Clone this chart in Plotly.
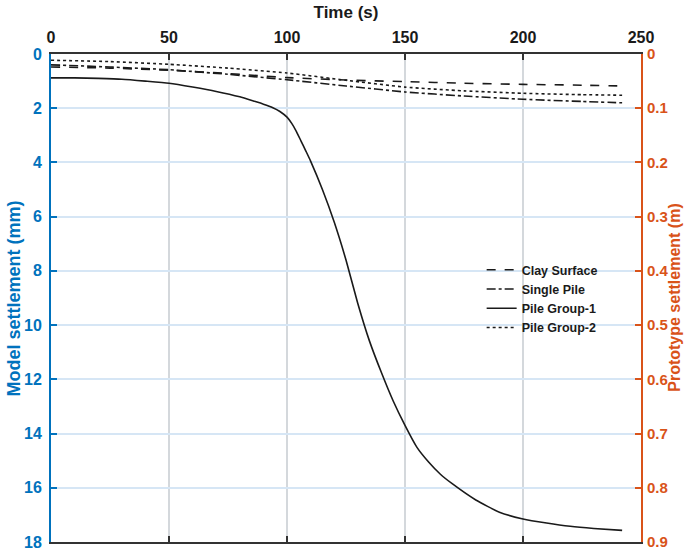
import plotly.graph_objects as go

# Settlement–time records (model scale, mm)
t_clay = [0, 25, 50, 75, 100, 125, 150, 175, 200, 225, 242]
clay_surface = [0.48, 0.52, 0.60, 0.72, 0.87, 0.96, 1.02, 1.08, 1.12, 1.15, 1.18]

t_single = [0, 25, 50, 75, 100, 125, 150, 175, 200, 225, 242]
single_pile = [0.40, 0.48, 0.58, 0.75, 0.95, 1.18, 1.40, 1.55, 1.67, 1.75, 1.80]

t_group1 = [0, 10, 20, 30, 40, 50, 60, 70, 80, 86, 90, 94, 97, 100, 102, 104,
            106, 108, 110, 115, 120, 125, 130, 135, 140, 145, 150, 155, 160,
            165, 170, 180, 190, 200, 210, 220, 230, 242]
pile_group_1 = [0.88, 0.88, 0.90, 0.93, 1.00, 1.08, 1.22, 1.38, 1.58, 1.74, 1.85,
                1.98, 2.12, 2.33, 2.56, 2.86, 3.22, 3.58, 3.95, 5.00, 6.20, 7.60,
                9.20, 10.60, 11.75, 12.80, 13.70, 14.50, 15.05, 15.50, 15.85,
                16.45, 16.90, 17.15, 17.30, 17.42, 17.50, 17.57]

t_group2 = [0, 25, 50, 75, 100, 125, 150, 175, 200, 225, 242]
pile_group_2 = [0.23, 0.28, 0.38, 0.52, 0.70, 0.97, 1.22, 1.36, 1.45, 1.50, 1.52]

x_ticks = [0, 50, 100, 150, 200, 250]
model_ticks = [0, 2, 4, 6, 8, 10, 12, 14, 16, 18]
proto_ticks = [0, 0.1, 0.2, 0.3, 0.4, 0.5, 0.6, 0.7, 0.8, 0.9]

BLUE = "#0072BD"
ORANGE = "#D95319"
INK = "#1a1a1a"
FONT = "Arial"

fig = go.Figure()
series = [
    ("Clay Surface", t_clay, clay_surface, "dash"),
    ("Single Pile", t_single, single_pile, "dashdot"),
    ("Pile Group-1", t_group1, pile_group_1, "solid"),
    ("Pile Group-2", t_group2, pile_group_2, "dot"),
]
for name, tx, vals, dash in series:
    fig.add_trace(go.Scatter(
        x=tx, y=vals, name=name, mode="lines",
        line=dict(color=INK, width=1.6, dash=dash, shape="spline", smoothing=0.5),
    ))

# invisible trace to activate the prototype-scale axis
fig.add_trace(go.Scatter(x=[0], y=[0], yaxis="y2", mode="markers",
                         marker=dict(opacity=0), showlegend=False, hoverinfo="skip"))

axis_common = dict(automargin=False, ticklabeloverflow="allow", zeroline=False,
                   ticks="inside", ticklen=6, tickwidth=2, showline=True, linewidth=2)

fig.update_layout(
    width=684, height=550,
    margin=dict(l=51, r=43, t=54, b=8),
    plot_bgcolor="white", paper_bgcolor="white",
    font=dict(family=FONT, size=16, color=INK),
    showlegend=True,
    legend=dict(
        x=0.935, y=0.588, xanchor="right", yanchor="top",
        bgcolor="rgba(0,0,0,0)", borderwidth=0,
        font=dict(family=FONT, size=12.5, color=INK, weight="bold"),
        tracegroupgap=0, itemwidth=30,
    ),
    xaxis=dict(
        side="top", range=[0, 250], tickvals=x_ticks,
        title=dict(text="Time (s)", font=dict(size=17, weight="bold", color=INK), standoff=6),
        tickfont=dict(size=16, weight="bold", color=INK), ticklabelstandoff=3,
        linecolor="#333333", mirror="ticks", tickcolor="#333333",
        showgrid=True, gridcolor="#d4d8dc", gridwidth=1.5,
        **axis_common,
    ),
    yaxis=dict(
        range=[18, 0], tickvals=model_ticks,
        tickfont=dict(size=16, weight="bold", color=BLUE), ticklabelstandoff=4,
        linecolor=BLUE, tickcolor=BLUE,
        showgrid=True, gridcolor="#d6e6f5", gridwidth=1.5,
        **axis_common,
    ),
    yaxis2=dict(
        overlaying="y", side="right", range=[0.9, 0], tickvals=proto_ticks,
        tickfont=dict(size=15, weight="bold", color=ORANGE), ticklabelstandoff=1,
        linecolor=ORANGE, tickcolor=ORANGE, showgrid=False,
        **axis_common,
    ),
    annotations=[
        dict(text="Model settlement (mm)", xref="paper", yref="paper",
             x=-0.062, y=0.5, textangle=-90, showarrow=False,
             xanchor="center", yanchor="middle",
             font=dict(family=FONT, size=18, weight="bold", color=BLUE)),
        dict(text="Prototype settlement (m)", xref="paper", yref="paper",
             x=1.0555, y=0.5, textangle=-90, showarrow=False,
             xanchor="center", yanchor="middle",
             font=dict(family=FONT, size=16, weight="bold", color=ORANGE)),
    ],
)

fig.write_html("out.html")
